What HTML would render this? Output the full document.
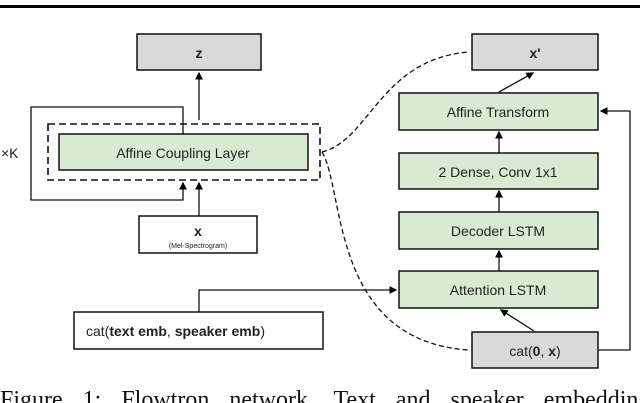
<!DOCTYPE html>
<html><head><meta charset="utf-8"><style>
html,body{margin:0;padding:0;background:#fff;width:640px;height:403px;overflow:hidden;position:relative}
.cap{position:absolute;left:0;top:387px;font:24px "Liberation Serif",serif;white-space:nowrap;color:#111;word-spacing:14px}
</style></head><body>
<svg width="640" height="403" style="position:absolute;left:0;top:0" font-family="Liberation Sans, sans-serif">
<defs><marker id="a" markerWidth="6" markerHeight="6" refX="5" refY="3" orient="auto"><path d="M0,0 L6,3 L0,6z" fill="#000"/></marker></defs>
<rect x="0" y="5" width="640" height="3" fill="#000"/>
<g stroke="#111" stroke-width="1.5">
<rect x="137" y="34" width="124" height="36" fill="#d9d9d9"/>
<rect x="472" y="34" width="126" height="36" fill="#d9d9d9"/>
<rect x="472" y="332" width="126" height="36" fill="#d9d9d9"/>
<rect x="59" y="134" width="249" height="36" fill="#d9ead3"/>
<rect x="399" y="93" width="199" height="37" fill="#d9ead3"/>
<rect x="399" y="153" width="199" height="36" fill="#d9ead3"/>
<rect x="399" y="212" width="199" height="37" fill="#d9ead3"/>
<rect x="399" y="271" width="199" height="37" fill="#d9ead3"/>
<rect x="139" y="216" width="118" height="37" fill="#fff"/>
<rect x="74" y="312" width="249" height="37" fill="#fff"/>
</g>
<g fill="none" stroke="#111" stroke-width="1.3">
<rect x="48" y="124" width="272" height="56" stroke-dasharray="7,4" stroke-width="1.6"/>
<path d="M183,134 V107 H31 V200 H183 V183" marker-end="url(#a)"/>
<path d="M199,120 V73" marker-end="url(#a)"/>
<path d="M199,216 V183" marker-end="url(#a)"/>
<path d="M199,312 V290 H396" marker-end="url(#a)"/>
<path d="M499,92 L533,73" marker-end="url(#a)"/>
<path d="M499,153 V132" marker-end="url(#a)"/>
<path d="M499,212 V191" marker-end="url(#a)"/>
<path d="M499,271 V251" marker-end="url(#a)"/>
<path d="M534,331 L501,310" marker-end="url(#a)"/>
<path d="M598,350 H630 V111 H601" marker-end="url(#a)"/>
<path d="M322,152 C370,140 380,60 468,52" stroke-dasharray="5,3"/>
<path d="M322,152 C345,190 330,340 468,350" stroke-dasharray="5,3"/>
</g>
<g font-size="14" text-anchor="middle" fill="#222">
<text x="199" y="58" font-weight="bold">z</text>
<text x="535" y="58" font-weight="bold">x'</text>
<text x="183" y="158">Affine Coupling Layer</text>
<text x="498" y="117">Affine Transform</text>
<text x="498" y="177">2 Dense, Conv 1x1</text>
<text x="498" y="236">Decoder LSTM</text>
<text x="498" y="295">Attention LSTM</text>
<text x="535" y="356">cat(<tspan font-weight="bold">0</tspan>, <tspan font-weight="bold">x</tspan>)</text>
<text x="198" y="236" font-weight="bold">x</text>
<text x="198" y="248" font-size="7">(Mel-Spectrogram)</text>
<text x="86" y="336" text-anchor="start">cat(<tspan font-weight="bold">text emb</tspan>, <tspan font-weight="bold">speaker emb</tspan>)</text>
<text x="1" y="158" text-anchor="start">×K</text>
</g>
</svg>
<div class="cap">Figure 1: Flowtron network. Text and speaker embeddings</div>
</body></html>
